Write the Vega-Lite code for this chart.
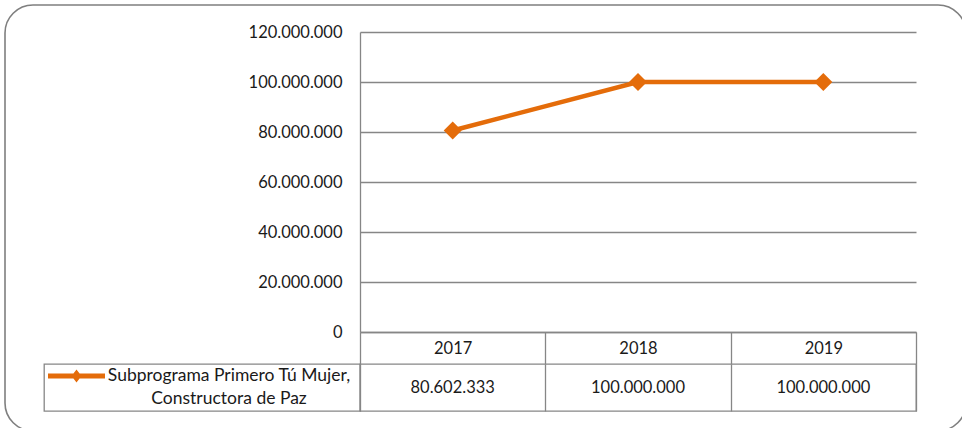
{
  "$schema": "https://vega.github.io/schema/vega-lite/v6.json",
  "autosize": {"type": "pad"},
  "padding": {"left": 4, "top": 4, "right": 0, "bottom": 0},
  "background": "#ffffff",
  "config": {
    "view": {"stroke": null},
    "font": "Lato",
    "legend": {"strokeWidth": 1.6},
    "locale": {"number": {"decimal": ",", "thousands": ".", "grouping": [3], "currency": ["$", ""]}},
    "axis": {"labelFont": "Lato", "labelFontSize": 16.5, "labelColor": "#1a1a1a", "domainColor": "#868686", "gridColor": "#868686", "tickColor": "#868686", "domainWidth": 1.3, "gridWidth": 1.3, "tickWidth": 1.3}
  },
  "datasets": {
    "valores": [
      {"serie": "Subprograma Primero Tú Mujer,\nConstructora de Paz", "year": "2017", "value": 80602333},
      {"serie": "Subprograma Primero Tú Mujer,\nConstructora de Paz", "year": "2018", "value": 100000000},
      {"serie": "Subprograma Primero Tú Mujer,\nConstructora de Paz", "year": "2019", "value": 100000000}
    ]
  },
  "columns": 2,
  "bounds": "flush",
  "spacing": {"row": 32, "column": 0},
  "concat": [
    {
      "data": {"name": "valores"},
      "width": 316,
      "height": 300,
      "mark": {"type": "point", "opacity": 0},
      "encoding": {
        "fill": {
          "field": "value", "type": "quantitative",
          "scale": {"range": ["#ffffff", "#ffffff"]},
          "legend": {
            "title": null, "orient": "none", "legendX": -39, "legendY": -27,
            "direction": "horizontal", "gradientLength": 537, "gradientThickness": 1,
            "gradientStrokeWidth": 0, "gradientOpacity": 0,
            "labelExpr": "''", "labelOffset": 0, "labelFontSize": 1,
            "padding": 212, "cornerRadius": 28, "strokeColor": "#7f7f7f"
          }
        }
      }
    },
    {
      "data": {"name": "valores"},
      "width": 556,
      "height": 300,
      "encoding": {
        "x": {
          "field": "year", "type": "ordinal",
          "scale": {"type": "band", "paddingInner": 0, "paddingOuter": 0},
          "axis": {"title": null, "orient": "bottom", "tickBand": "extent", "tickSize": 32, "labelPadding": -16, "labelBaseline": "middle", "labelAngle": 0}
        },
        "y": {
          "field": "value", "type": "quantitative",
          "scale": {"domain": [0, 120000000]},
          "axis": {"title": null, "values": [0, 20000000, 40000000, 60000000, 80000000, 100000000, 120000000], "format": ",d", "ticks": false, "labelPadding": 18, "grid": true}
        }
      },
      "layer": [
        {"mark": {"type": "line", "color": "#E46C0A", "strokeWidth": 4.5}},
        {"mark": {"type": "point", "shape": "diamond", "filled": true, "size": 324, "color": "#E46C0A", "opacity": 1}}
      ]
    },
    {
      "data": {"name": "valores"},
      "transform": [{"aggregate": [{"op": "count", "as": "n"}], "groupby": ["serie"]}],
      "width": 316,
      "height": 47,
      "view": {"stroke": "#868686", "strokeWidth": 1.3},
      "layer": [
        {
          "mark": {"type": "point", "shape": "M-5.7,-0.5H5.7V0.5H-5.7Z M0,-1.3L1,0L0,1.3L-1,0Z", "size": 100, "filled": true, "color": "#E46C0A", "opacity": 1, "xOffset": -125.5, "yOffset": -11.5},
          "encoding": {}
        },
        {
          "mark": {"type": "text", "fontSize": 17.5, "color": "#1a1a1a", "align": "center", "baseline": "middle", "lineBreak": "\n", "lineHeight": 23, "dx": 27, "dy": -11.5},
          "encoding": {"text": {"field": "serie"}}
        }
      ]
    },
    {
      "data": {"name": "valores"},
      "width": 556,
      "height": 47,
      "view": {"stroke": "#868686", "strokeWidth": 1.3},
      "mark": {"type": "text", "fontSize": 16.5, "color": "#1a1a1a", "align": "center", "baseline": "middle"},
      "encoding": {
        "x": {
          "field": "year", "type": "ordinal",
          "scale": {"type": "band", "paddingInner": 0, "paddingOuter": 0},
          "axis": {"title": null, "orient": "top", "labels": false, "ticks": false, "domain": false, "grid": true, "tickBand": "extent"}
        },
        "text": {"field": "value", "type": "quantitative", "format": ",d"}
      }
    }
  ]
}
